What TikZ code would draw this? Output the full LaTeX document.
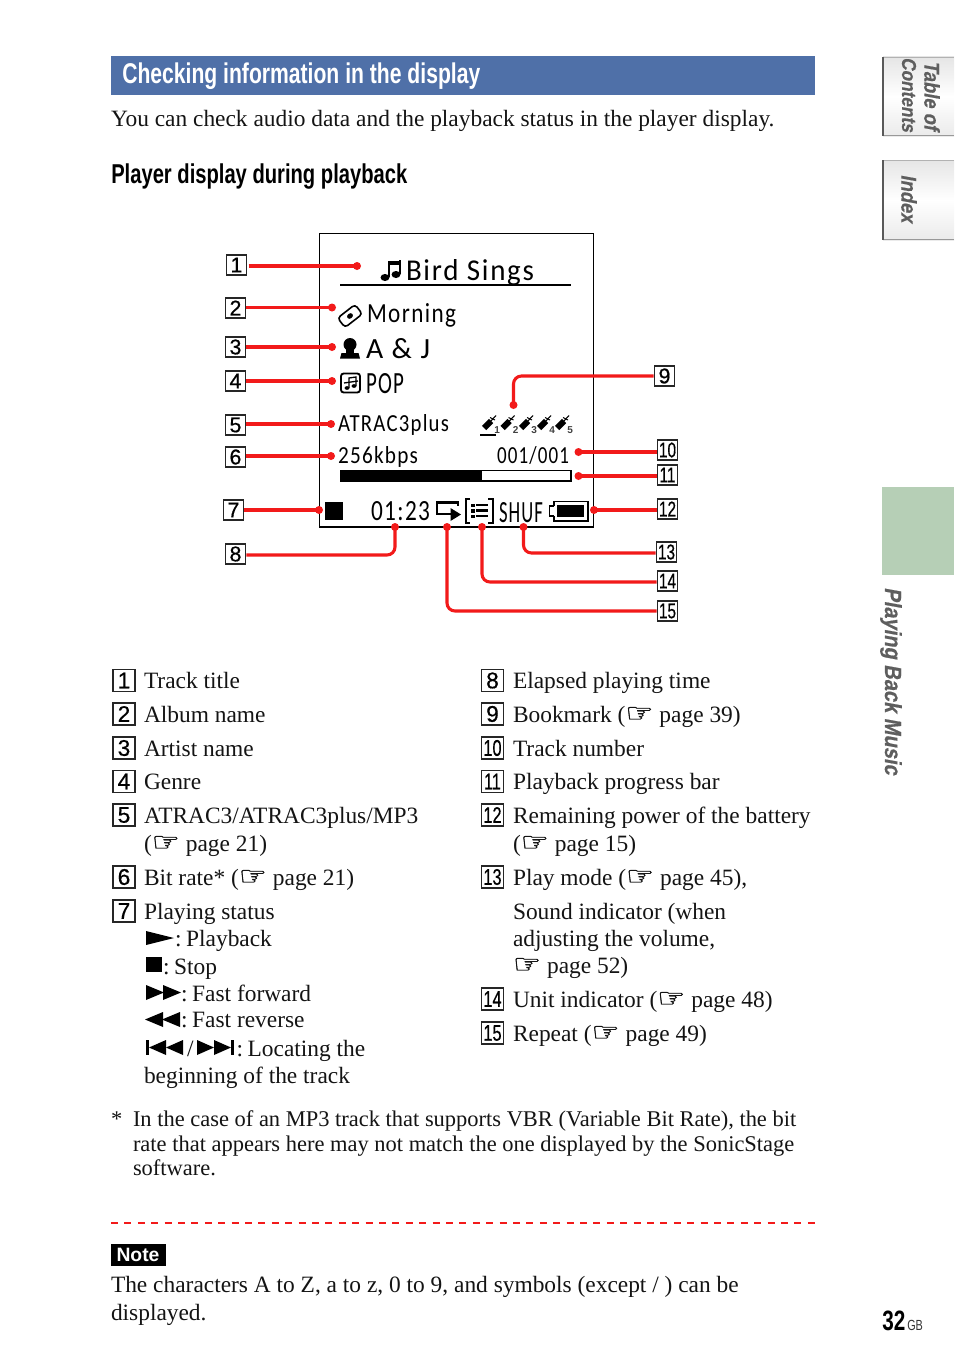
\documentclass[tikz,border=0pt]{standalone}
\usepackage{fontspec}
\usepackage{graphicx}
\setmainfont{Liberation Serif}
\newfontfamily\handfont[FakeBold=1.2]{DejaVu Sans}
\newfontfamily\numfont[FakeBold=0.6]{Liberation Sans}
\newfontfamily\notefont{Liberation Sans Bold}
\newfontfamily\lcdfont[LetterSpace=6]{Carlito}
\newfontfamily\condfont[FakeStretch=0.74]{Liberation Sans}
\newfontfamily\condbold[FakeStretch=0.74]{Liberation Sans Bold}
\newfontfamily\condit[FakeStretch=0.86,FakeSlant=0.18,FakeBold=0.5]{Liberation Sans Bold}
\newcommand\pg{\scalebox{1.18}[0.98]{\handfont\fontsize{20pt}{20pt}\selectfont ☞}}
\newcommand\lcd[3]{\resizebox{\the\dimexpr #1pt*3/4\relax}{\the\dimexpr #2pt*3/4\relax}{\lcdfont #3}}
\newcommand\cs{:\hspace{3.5pt}}
\definecolor{barblue}{HTML}{4F70A8}
\definecolor{tabgreen}{HTML}{B6CFB6}
\definecolor{wirered}{HTML}{F21A1A}
\definecolor{sidegrey}{HTML}{5E5E5E}
\usetikzlibrary{calc}
\tikzset{
  txt/.style={anchor=base west,inner sep=0pt,outer sep=0pt,font=\fontsize{17.55pt}{17.55pt}\selectfont,text=black!92},
  fntxt/.style={txt,font=\fontsize{16.85pt}{16.85pt}\selectfont},
  lcdtxt/.style={anchor=base west,inner sep=0pt,outer sep=0pt,text=black},
  keybox/.style={draw=black!85,line width=0.85pt,minimum width=15.5pt,minimum height=15pt,inner sep=0pt,font=\numfont\fontsize{16pt}{16pt}\selectfont},
  listbox/.style={draw=black!85,line width=0.85pt,minimum width=16.5pt,minimum height=16.5pt,inner sep=0pt,font=\numfont\fontsize{17pt}{17pt}\selectfont},
  wire/.style={draw=wirered,line width=2.3pt,rounded corners=6pt},
  dot/.style={circle,fill=wirered,inner sep=0pt,minimum size=6pt},
  lcdline/.style={draw=black,line width=1.5pt},
  sidetxt/.style={rotate=-90,inner sep=0pt,text=sidegrey,font=\condit\fontsize{16pt}{16pt}\selectfont},
}
\newcommand\nar[1]{\scalebox{0.72}[1]{#1}}
\begin{document}
\begin{tikzpicture}[x=0.75pt,y=-0.75pt]
\useasboundingbox (0,0) rectangle (954,1370);
\fill[white] (0,0) rectangle (954,1370);

% header
\fill[barblue] (111,56) rectangle (815,95);
\node[anchor=base west,inner sep=0,text=white] (title) at (122,84) {\resizebox{\the\dimexpr 358pt*3/4\relax}{!}{\condbold\fontsize{19.5pt}{19.5pt}\selectfont Checking information in the display}};
\node[txt] (intro) at (111,126) {You can check audio data and the playback status in the player display.};
\node[anchor=base west,inner sep=0,text=black] (head) at (111,183) {\resizebox{\the\dimexpr 296pt*3/4\relax}{!}{\condbold\fontsize{18pt}{18pt}\selectfont Player display during playback}};

% side tabs
\shade[top color=black!10,bottom color=black!8,middle color=white] (883,57) rectangle (954,136);
\draw[black!30,line width=0.7pt] (883,57) -- (954,57);
\draw[black!40,line width=0.9pt] (883,135.5) -- (954,135.5);
\draw[black!65,line width=1.6pt] (883,57) -- (883,136);
\shade[top color=black!10,bottom color=black!8,middle color=white] (883,160) rectangle (954,240);
\draw[black!30,line width=0.7pt] (883,160) -- (954,160);
\draw[black!40,line width=0.9pt] (883,239.5) -- (954,239.5);
\draw[black!65,line width=1.6pt] (883,160) -- (883,240);
\node[sidetxt] (tabA) at (932,95.5) {Table of};
\node[sidetxt,font=\condit\fontsize{15pt}{15pt}\selectfont] (tabB) at (909,94.5) {Contents};
\node[sidetxt] (tabC) at (909,198.5) {Index};
\fill[tabgreen] (882,487) rectangle (954,575);
\node[sidetxt,font=\condit\fontsize{17.5pt}{17.5pt}\selectfont] (side) at (891,681) {Playing Back Music};

% display
\draw[black,line width=1pt] (319.5,233.5) rectangle (593.5,527);
\draw[lcdline] (340,285) -- (571,285);

% LCD text
\node[lcdtxt] (lcdA) at (406,280) {\lcd{128}{21}{Bird Sings}};
\node[lcdtxt] (lcdB) at (367,322) {\lcd{89}{19}{Morning}};
\node[lcdtxt] (lcdC) at (366,358) {\lcd{64}{20}{A \& J}};
\node[lcdtxt] (lcdD) at (366,393) {\lcd{38}{20}{POP}};
\node[lcdtxt] (lcdE) at (338,431) {\lcd{111}{17}{ATRAC3plus}};
\node[lcdtxt] (lcdF) at (338,463) {\lcd{80}{17}{256kbps}};
\node[lcdtxt] (lcdG) at (497,463) {\lcd{72}{17}{001/001}};
\node[lcdtxt] (lcdH) at (371,520) {\lcd{59}{19}{01:23}};
\node[lcdtxt] (lcdI) at (499,522) {\lcd{44}{20}{SHUF}};

% music note icon
\fill (385,277.5) ellipse (4.5 and 3.5);
\fill (396,274.5) ellipse (4.5 and 3.5);
\fill (387.5,262) rectangle (390,277);
\fill (398.5,260) rectangle (401,274);
\fill (387.5,260.5) rectangle (401,265);

% album icon
\draw[black,line width=1.2pt,rounded corners=2.5pt,rotate around={38:(350,316)}] (339,310) rectangle (361,322);
\fill[rotate around={38:(350,316)}] (350,316) ellipse (3.2 and 2.5);

% artist icon
\fill (350,344.5) ellipse (6.5 and 6.5);
\fill (346,349) rectangle (354,353);
\fill (340,358.5) -- (341.5,353) -- (358.5,353) -- (360,358.5) -- cycle;

% genre icon
\draw[black,line width=1.4pt,rounded corners=2pt] (341,373.5) rectangle (360,392.5);
\fill (347,388) ellipse (2.4 and 1.9);
\fill (354,386) ellipse (2.4 and 1.9);
\draw[black,line width=1pt] (349,388) -- (349,378) -- (356,377) -- (356,386);
\draw[black,line width=1pt] (344,383) -- (358,381);

% bookmarks
\foreach \i/\xx in {1/483,2/501.5,3/520,4/538,5/556}{
  \draw[black,line width=4.5pt] (\xx+1,428) -- (\xx+8,421);
  \draw[black,line width=0.8pt] (\xx+7,422) -- (\xx+13,415.5);
  \draw[black,line width=0.7pt] (\xx+7,417.5) -- (\xx+12,420);
  \node[inner sep=0,anchor=base west,text=black!75,font=\notefont\fontsize{7.5pt}{7.5pt}\selectfont] (bm\i) at (\xx+11,433) {\i};
}
\draw[lcdline] (480,435) -- (496,435);

% progress bar
\draw[black,line width=1pt] (340.5,470.5) rectangle (571,481);
\fill (340,470) rectangle (482,481.5);

% status row
\fill (325,502) rectangle (343,520);
\draw[black,line width=1.7pt] (458,505.5) -- (458,502.5) -- (437,502.5) -- (437,514) -- (451,514);
\fill (450.5,508) -- (461,514.5) -- (450.5,521) -- cycle;
\draw[black,line width=1.5pt] (470,499) -- (465.5,499) -- (465.5,523) -- (470,523);
\draw[black,line width=1.5pt] (488,499) -- (492.5,499) -- (492.5,523) -- (488,523);
\fill (471,503.5) rectangle (474.5,507);
\fill (471,509) rectangle (474.5,512.5);
\fill (471,514.5) rectangle (474.5,518);
\fill (476,503.5) rectangle (488,506);
\fill (476,509) rectangle (488,511.5);
\fill (476,514.5) rectangle (488,517);
% battery
\draw[black,line width=1.4pt] (554,506) -- (554,501.5) -- (588,501.5) -- (588,521) -- (554,521) -- (554,516);
\draw[black,line width=1.4pt] (554,506) -- (549.5,506) -- (549.5,516) -- (554,516);
\fill (557,504.5) rectangle (584,517);

% keys
\node[keybox] (k1) at (236.5,265) {1};
\node[keybox] (k2) at (235.5,308) {2};
\node[keybox] (k3) at (235.5,347) {3};
\node[keybox] (k4) at (235.5,381) {4};
\node[keybox] (k5) at (235.5,425) {5};
\node[keybox] (k6) at (235.5,457) {6};
\node[keybox] (k7) at (233.5,510) {7};
\node[keybox] (k8) at (235.5,554) {8};
\node[keybox] (k9) at (664.5,376) {9};
\node[keybox] (k10) at (667.5,450) {\nar{10}};
\node[keybox] (k11) at (667.5,475) {\nar{11}};
\node[keybox] (k12) at (667.5,509) {\nar{12}};
\node[keybox] (k13) at (666.5,552) {\nar{13}};
\node[keybox] (k14) at (667.5,581) {\nar{14}};
\node[keybox] (k15) at (667.5,611) {\nar{15}};

% dots
\node[dot] (d1) at (357,266) {};
\node[dot] (d2) at (332,307.5) {};
\node[dot] (d3) at (332,347) {};
\node[dot] (d4) at (332,381) {};
\node[dot] (d5) at (331,424) {};
\node[dot] (d6) at (331,456) {};
\node[dot] (d7) at (319,510) {};
\node[dot] (d8) at (395,527) {};
\node[dot] (d9) at (513.5,405) {};
\node[dot] (d10) at (578.5,452) {};
\node[dot] (d11) at (578.5,476) {};
\node[dot] (d12) at (594,510) {};
\node[dot] (d13) at (523.5,527) {};
\node[dot] (d14) at (482,527) {};
\node[dot] (d15) at (447,527) {};

% wires
\draw[wire] ([xshift=1pt]k1.east |- d1) -- (d1.center);
\draw[wire] (k2.east |- d2) -- (d2.center);
\draw[wire] (k3.east) -- (d3.center);
\draw[wire] (k4.east) -- (d4.center);
\draw[wire] (k5.east |- d5) -- (d5.center);
\draw[wire] (k6.east |- d6) -- (d6.center);
\draw[wire] (k7.east) -- (d7.center);
\draw[wire] (k8.east |- 0,555) -- (395,555) -- (d8.center);
\draw[wire] (k9.west) -- (513.5,376) -- (d9.center);
\draw[wire] (k10.west |- d10) -- (d10.center);
\draw[wire] (k11.west |- d11) -- (d11.center);
\draw[wire] (k12.west |- d12) -- (d12.center);
\draw[wire] (k13.west |- 0,553) -- (523.5,553) -- (d13.center);
\draw[wire] (k14.west |- 0,582) -- (482,582) -- (d14.center);
\draw[wire] (k15.west) -- (447,611) -- (d15.center);

% list, left
\node[listbox] (a1) at (124,680.5) {1};
\node[txt] (at1) at (144,688) {Track title};
\node[listbox] (a2) at (124,714) {2};
\node[txt] (at2) at (144,722) {Album name};
\node[listbox] (a3) at (124,748) {3};
\node[txt] (at3) at (144,756) {Artist name};
\node[listbox] (a4) at (124,781.5) {4};
\node[txt] (at4) at (144,789.5) {Genre};
\node[listbox] (a5) at (124,815) {5};
\node[txt] (at5) at (144,823) {ATRAC3/ATRAC3plus/MP3};
\node[txt] (at5b) at (144,851) {(\pg\ page 21)};
\node[listbox] (a6) at (124,877) {6};
\node[txt] (at6) at (144,885) {Bit rate* (\pg\ page 21)};
\node[listbox] (a7) at (124,911) {7};
\node[txt] (at7) at (144,919) {Playing status};
\fill (146,931) -- (174,938) -- (146,945) -- cycle;
\node[txt] (at7a) at (175,946) {\cs Playback};
\fill (146,957) rectangle (162,972);
\node[txt] (at7b) at (163,974) {\cs Stop};
\fill (146,985) -- (164,992.5) -- (146,1000) -- cycle;
\fill (163,985) -- (181,992.5) -- (163,1000) -- cycle;
\node[txt] (at7c) at (181,1001) {\cs Fast forward};
\fill (163,1012) -- (145,1019.5) -- (163,1027) -- cycle;
\fill (180,1012) -- (162,1019.5) -- (180,1027) -- cycle;
\node[txt] (at7d) at (181,1027) {\cs Fast reverse};
\fill (146,1040) rectangle (149,1055);
\fill (166,1040) -- (149,1047.5) -- (166,1055) -- cycle;
\fill (183,1040) -- (166,1047.5) -- (183,1055) -- cycle;
\node[txt] (at7s) at (187,1056) {/};
\fill (197,1040) -- (214,1047.5) -- (197,1055) -- cycle;
\fill (214,1040) -- (231,1047.5) -- (214,1055) -- cycle;
\fill (231,1040) rectangle (234,1055);
\node[txt] (at7e) at (236.5,1056) {\cs Locating the};
\node[txt] (at7f) at (144,1083) {beginning of the track};

% list, right
\node[listbox] (b8) at (492.5,680.5) {8};
\node[txt] (bt8) at (513,688) {Elapsed playing time};
\node[listbox] (b9) at (492.5,714) {9};
\node[txt] (bt9) at (513,722) {Bookmark (\pg\ page 39)};
\node[listbox] (b10) at (492.5,748) {\nar{10}};
\node[txt] (bt10) at (513,756) {Track number};
\node[listbox] (b11) at (492.5,781.5) {\nar{11}};
\node[txt] (bt11) at (513,789.5) {Playback progress bar};
\node[listbox] (b12) at (492.5,815) {\nar{12}};
\node[txt] (bt12) at (513,823) {Remaining power of the battery};
\node[txt] (bt12b) at (513,851) {(\pg\ page 15)};
\node[listbox] (b13) at (492.5,877) {\nar{13}};
\node[txt] (bt13) at (513,885) {Play mode (\pg\ page 45),};
\node[txt] (bt13b) at (513,919) {Sound indicator (when};
\node[txt] (bt13c) at (513,946) {adjusting the volume,};
\node[txt] (bt13d) at (513,973) {\pg\ page 52)};
\node[listbox] (b14) at (492.5,999) {\nar{14}};
\node[txt] (bt14) at (513,1007) {Unit indicator (\pg\ page 48)};
\node[listbox] (b15) at (492.5,1033) {\nar{15}};
\node[txt] (bt15) at (513,1041) {Repeat (\pg\ page 49)};

% footnote
\node[fntxt] (fnS) at (111,1126) {*};
\node[fntxt] (fn1) at (133,1126) {In the case of an MP3 track that supports VBR (Variable Bit Rate), the bit};
\node[fntxt] (fn2) at (133,1151) {rate that appears here may not match the one displayed by the SonicStage};
\node[fntxt] (fn3) at (133,1175) {software.};

% note
\draw[wirered,line width=1.5pt,dash pattern=on 5.25pt off 4.8pt] (111,1222.5) -- (815,1222.5);
\fill[black] (111,1244) rectangle (166,1266);
\node[anchor=base,inner sep=0,text=white,font=\notefont\fontsize{14.5pt}{14.5pt}\selectfont] (noteL) at (138,1261) {Note};
\node[txt] (n1) at (111,1292) {The characters A to Z, a to z, 0 to 9, and symbols (except / ) can be};
\node[txt] (n2) at (111,1320) {displayed.};

% page number
\node[anchor=base west,inner sep=0,text=black,font=\condbold\fontsize{21pt}{21pt}\selectfont] (pn) at (882,1330) {32};
\node[anchor=base west,inner sep=0,text=black!80,font=\condfont\fontsize{11pt}{11pt}\selectfont] (pnb) at (907,1330) {GB};
\end{tikzpicture}
\end{document}
